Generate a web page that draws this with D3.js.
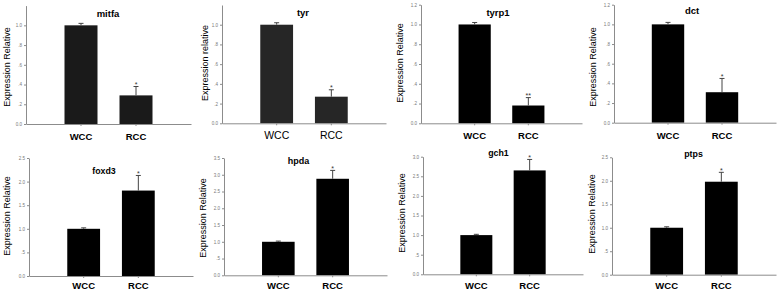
<!DOCTYPE html>
<html>
<head>
<meta charset="utf-8">
<script src="https://cdn.jsdelivr.net/npm/d3@7"></script>
<style>
  body { margin: 0; background: #fff; }
  svg { display: block; font-family: 'Liberation Sans', Arial, sans-serif; }
</style>
</head>
<body>
<svg width="778" height="293"></svg>
<script>
// values
const genes = ['mitfa', 'tyr', 'tyrp1', 'dct', 'foxd3', 'hpda', 'gch1', 'ptps'];
const groups = ['WCC', 'RCC'];
const wccMean = [1.0, 1.0, 1.0, 1.0, 1.0, 1.0, 1.0, 1.0];
const wccErr = [0.02, 0.02, 0.02, 0.02, 0.02, 0.02, 0.02, 0.02];
const rccMean = [0.29, 0.27, 0.18, 0.31, 1.81, 2.88, 2.65, 1.98];
const rccErr = [0.09, 0.07, 0.08, 0.14, 0.32, 0.25, 0.28, 0.2];
const rccMark = ['*', '*', '**', '*', '*', '*', '*', '*'];
const yMax = [1.2, 1.2, 1.2, 1.2, 2.5, 3.5, 3.0, 2.5];
const yTickValues = [
  [0, 0.2, 0.4, 0.6, 0.8, 1.0],
  [0, 0.2, 0.4, 0.6, 0.8, 1.0],
  [0, 0.2, 0.4, 0.6, 0.8, 1.0, 1.2],
  [0, 0.2, 0.4, 0.6, 0.8, 1.0, 1.2],
  [0, 0.5, 1.0, 1.5, 2.0, 2.5],
  [0, 0.5, 1.0, 1.5, 2.0, 2.5, 3.0, 3.5],
  [0, 0.5, 1.0, 1.5, 2.0, 2.5, 3.0],
  [0, 0.5, 1.0, 1.5, 2.0, 2.5]
];
const yLabels = ['Expression Relative', 'Expression relative', 'Expression Relative', 'Expression Relative',
  'Expression Relative', 'Expression Relative', 'Expression Relative', 'Expression Relative'];

// panel layout (pixels)
const layout = [
  { x0: 26, x1: 191, yTop: 5.6, yBase: 124, labX: 7, labY: 67, titleX: 108, titleY: 17, titleSize: 9.5, catY: 140, bold: true, fill: '#1a1a1a' },
  { x0: 222, x1: 386, yTop: 5, yBase: 123.3, labX: 205, labY: 63, titleX: 303, titleY: 16, titleSize: 9.5, catY: 139, bold: false, fill: '#262626' },
  { x0: 421, x1: 582, yTop: 4.7, yBase: 123.3, labX: 400, labY: 63, titleX: 498, titleY: 15.5, titleSize: 9.5, catY: 139, bold: true, fill: '#000' },
  { x0: 614, x1: 776, yTop: 4.7, yBase: 122.7, labX: 593, labY: 67, titleX: 692, titleY: 13.5, titleSize: 9.5, catY: 139, bold: true, fill: '#000' },
  { x0: 29, x1: 193, yTop: 158, yBase: 276, labX: 7, labY: 216, titleX: 104, titleY: 173.5, titleSize: 8.8, catY: 289, bold: true, fill: '#000' },
  { x0: 224, x1: 387, yTop: 158, yBase: 275.3, labX: 203, labY: 218, titleX: 298.5, titleY: 164, titleSize: 9, catY: 289, bold: true, fill: '#000' },
  { x0: 423, x1: 583, yTop: 156.7, yBase: 274.3, labX: 402, labY: 213, titleX: 498.5, titleY: 155.7, titleSize: 8.8, catY: 289, bold: true, fill: '#000' },
  { x0: 612, x1: 776, yTop: 157.3, yBase: 274.7, labX: 592, labY: 214, titleX: 693.5, titleY: 157, titleSize: 8.8, catY: 289, bold: true, fill: '#000' }
];

const svg = d3.select('svg');
const axisColor = '#8c8c8c';

const fmtTick = v => {
  if (v === 0) return '0.0';
  const s = d3.format('.1f')(v);
  return s.startsWith('0.') ? s.slice(1) : s;
};

const renderPanel = i => {
  const L = layout[i];
  const means = [wccMean[i], rccMean[i]];
  const errs = [wccErr[i], rccErr[i]];

  const xScale = d3.scaleBand()
    .domain(groups)
    .range([L.x0, L.x1])
    .paddingInner(0.4)
    .paddingOuter(0.7);

  const yScale = d3.scaleLinear()
    .domain([0, yMax[i]])
    .range([L.yBase, L.yTop]);

  const g = svg.append('g');

  // bars
  g.selectAll('rect').data(groups)
    .enter().append('rect')
      .attr('x', d => xScale(d))
      .attr('width', xScale.bandwidth())
      .attr('y', (d, j) => yScale(means[j]))
      .attr('height', (d, j) => L.yBase - yScale(means[j]))
      .attr('fill', L.fill);

  // error bars (upper half only)
  const cx = d => xScale(d) + xScale.bandwidth() / 2;
  groups.forEach((d, j) => {
    const yv = yScale(means[j]);
    const ye = yScale(means[j] + errs[j]);
    g.append('line')
      .attr('x1', cx(d)).attr('x2', cx(d))
      .attr('y1', yv).attr('y2', ye)
      .attr('stroke', '#444').attr('stroke-width', 1);
    g.append('line')
      .attr('x1', cx(d) - 2.5).attr('x2', cx(d) + 2.5)
      .attr('y1', ye).attr('y2', ye)
      .attr('stroke', '#444').attr('stroke-width', 1);
  });

  // significance mark on RCC
  g.append('text')
    .attr('x', cx('RCC'))
    .attr('y', yScale(rccMean[i] + rccErr[i]) + 0.5)
    .attr('text-anchor', 'middle')
    .attr('font-size', 7)
    .style('fill', '#333')
    .text(rccMark[i]);

  // y axis
  const yAxis = d3.axisLeft(yScale)
    .tickValues(yTickValues[i])
    .tickFormat(fmtTick)
    .tickSize(2)
    .tickSizeOuter(0)
    .tickPadding(2);

  const yAxisG = g.append('g')
    .attr('transform', `translate(${L.x0},0)`)
    .call(yAxis);
  yAxisG.select('.domain').attr('stroke', axisColor);
  yAxisG.selectAll('.tick line').attr('stroke', axisColor);
  yAxisG.selectAll('.tick text')
    .attr('font-size', 4.5)
    .attr('font-family', 'Liberation Sans, Arial, sans-serif')
    .style('fill', '#777');

  // x axis
  const xAxis = d3.axisBottom(xScale)
    .tickSize(2)
    .tickSizeOuter(0);

  const xAxisG = g.append('g')
    .attr('transform', `translate(0,${L.yBase})`)
    .call(xAxis);
  xAxisG.select('.domain').attr('stroke', axisColor);
  xAxisG.selectAll('.tick line').attr('stroke', axisColor);
  xAxisG.selectAll('.tick text')
    .attr('y', L.catY - L.yBase)
    .attr('dy', null)
    .attr('font-size', L.bold ? 9.5 : 10.5)
    .attr('font-weight', L.bold ? 'bold' : 'normal')
    .attr('font-family', 'Liberation Sans, Arial, sans-serif')
    .style('fill', '#000');

  // y label
  g.append('text')
    .attr('transform', `translate(${L.labX},${L.labY}) rotate(-90)`)
    .attr('text-anchor', 'middle')
    .attr('dy', '0.35em')
    .attr('font-size', 9)
    .style('fill', '#000')
    .text(yLabels[i]);

  // title
  g.append('text')
    .attr('x', L.titleX)
    .attr('y', L.titleY)
    .attr('text-anchor', 'middle')
    .attr('font-size', L.titleSize)
    .attr('font-weight', 'bold')
    .style('fill', '#000')
    .text(genes[i]);
};

genes.forEach((d, i) => renderPanel(i));
</script>
</body>
</html>
